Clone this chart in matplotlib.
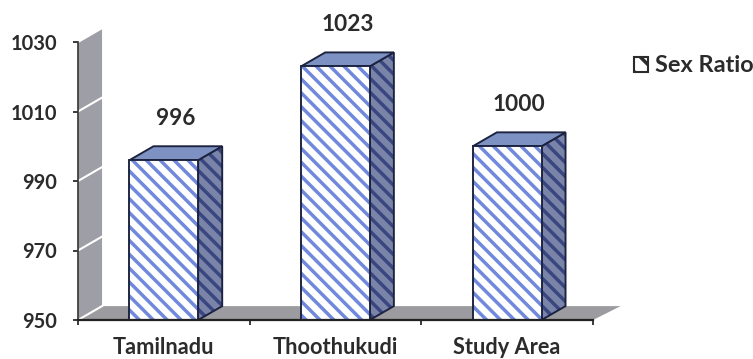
import matplotlib
matplotlib.use("Agg")
import matplotlib.pyplot as plt
from matplotlib.patches import Polygon, Patch

plt.rcParams['font.family'] = ['Lato', 'DejaVu Sans']
plt.rcParams['hatch.linewidth'] = 2.0

# data
categories = ["Tamilnadu", "Thoothukudi", "Study Area"]
sex_ratio = [996, 1023, 1000]
series_name = "Sex Ratio"
y_ticks = [950, 970, 990, 1010, 1030]

DPI = 125
fig = plt.figure(figsize=(753 / DPI, 359 / DPI), dpi=DPI)
ax = fig.add_axes([78 / 753, 39 / 359, 515 / 753, 278 / 359])

ymin, ymax = 950, 1030
xlo, xhi = -0.5, len(categories) - 0.5
ax.set_xlim(xlo, xhi)
ax.set_ylim(ymin, ymax)

# fake 3d depth, in data units
dx, dy = 0.14, 4.0
width = 0.40
text_col = "#2b2b2b"
stripes = "\\\\\\"  # three backslashes

# left wall and floor
wall = Polygon([(xlo, ymin), (xlo, ymax), (xlo + dx, ymax + dy), (xlo + dx, ymin + dy)],
               closed=True, facecolor="#9d9ea6", edgecolor="none", clip_on=False, zorder=1)
ax.add_patch(wall)
floor = Polygon([(xlo, ymin), (xhi, ymin), (xhi + dx * 1.15, ymin + dy), (xlo + dx, ymin + dy)],
                closed=True, facecolor="#9c9ca0", edgecolor="none", clip_on=False, zorder=1)
ax.add_patch(floor)
for t in y_ticks:
    ax.plot([xlo, xlo + dx], [t, t + dy], color="white", lw=1.2, clip_on=False, zorder=1.5)

# bars: side, top, front
for i, v in enumerate(sex_ratio):
    x0, x1 = i - width / 2, i + width / 2
    side = [(x1, ymin), (x1, v), (x1 + dx, v + dy), (x1 + dx, ymin + dy)]
    ax.add_patch(Polygon(side, closed=True, facecolor="#7a84a8", edgecolor="#3a4680",
                         hatch=stripes, lw=0, clip_on=False, zorder=3))
    ax.add_patch(Polygon(side, closed=True, fill=False, edgecolor="#1c2340",
                         lw=1.1, clip_on=False, zorder=3.5))
    top = [(x0, v), (x1, v), (x1 + dx, v + dy), (x0 + dx, v + dy)]
    ax.add_patch(Polygon(top, closed=True, facecolor="#7d91c2", edgecolor="#1c2340",
                         lw=1.1, clip_on=False, zorder=3.5))
    ax.annotate(str(v), xy=(i + dx / 2, v + dy), xytext=(0, 16), textcoords="offset points",
                ha="center", va="center", fontsize=13, fontweight="bold", color=text_col,
                annotation_clip=False)

x = list(range(len(categories)))
base = [v - ymin for v in sex_ratio]
ax.bar(x, base, width=width, bottom=ymin, color="white", edgecolor="#7189dc",
       hatch=stripes, lw=0, zorder=4)
ax.bar(x, base, width=width, bottom=ymin, fill=False, edgecolor="#1c2340",
       lw=1.1, zorder=4.5)

# axes styling
for s in ["top", "right"]:
    ax.spines[s].set_visible(False)
ax.spines["left"].set_color("#3a3a3a")
ax.spines["left"].set_linewidth(1.0)
ax.spines["bottom"].set_color("#222222")
ax.spines["bottom"].set_linewidth(1.3)
ax.spines["bottom"].set_zorder(6)

ax.set_yticks(y_ticks)
ax.set_yticklabels([str(t) for t in y_ticks])
ax.tick_params(axis="y", direction="out", length=3, width=1, color="#222222", pad=9,
               labelsize=11.5, labelcolor=text_col)
for lab in ax.get_yticklabels():
    lab.set_fontweight("bold")

ax.set_xticks(x)
ax.set_xticklabels(categories)
ax.tick_params(axis="x", which="major", length=0, pad=10, labelsize=12.5, labelcolor=text_col)
for lab in ax.get_xticklabels():
    lab.set_fontweight("bold")
ax.set_xticks([xlo + k for k in range(len(categories) + 1)], minor=True)
ax.tick_params(axis="x", which="minor", direction="out", length=3, width=1, color="#222222")

handle = Patch(facecolor="white", edgecolor="#2b2b2b", hatch="\\\\", lw=1.2)
fig.legend([handle], [series_name], loc="center left", bbox_to_anchor=(634 / 753, 1 - 66 / 359),
           frameon=False, handlelength=0.6, handleheight=0.6, handletextpad=0.3,
           borderpad=0, borderaxespad=0,
           prop={"weight": "bold", "size": 13.5, "family": ["Lato", "DejaVu Sans"]},
           labelcolor=text_col)

fig.savefig("out.png", dpi=DPI)
